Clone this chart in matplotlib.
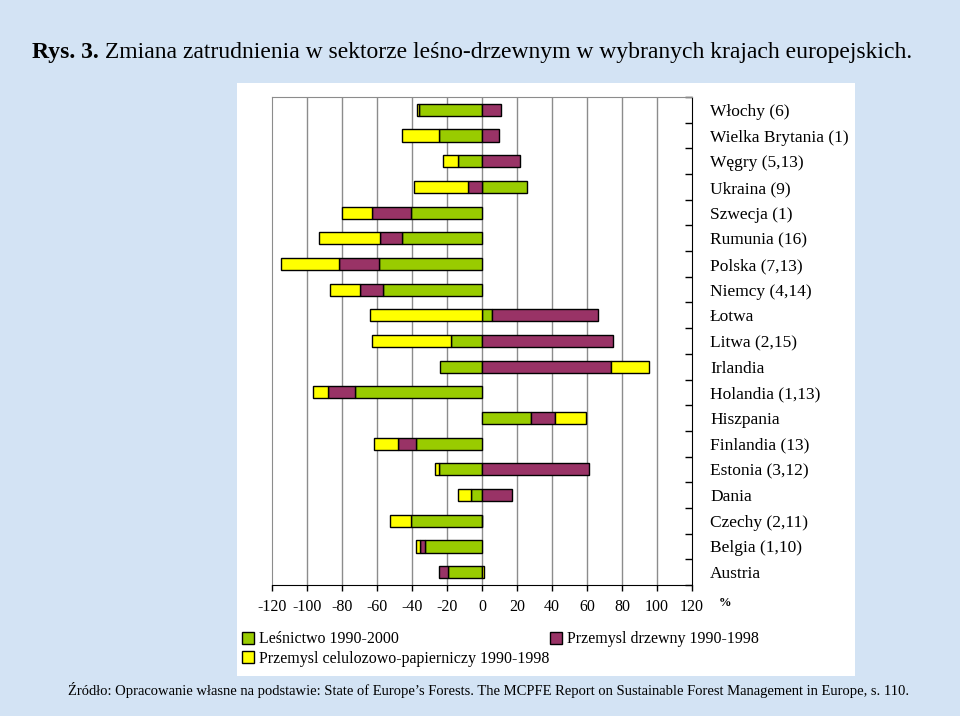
import numpy as np
import matplotlib
matplotlib.use("Agg")
import matplotlib.pyplot as plt

plt.rcParams['font.family'] = ['Liberation Serif', 'DejaVu Serif']

# categories listed bottom -> top, as in the original bar chart
countries = ["Austria", "Belgia (1,10)", "Czechy (2,11)", "Dania", "Estonia (3,12)",
             "Finlandia (13)", "Hiszpania", "Holandia (1,13)", "Irlandia", "Litwa (2,15)",
             "Łotwa", "Niemcy (4,14)", "Polska (7,13)", "Rumunia (16)", "Szwecja (1)",
             "Ukraina (9)", "Węgry (5,13)", "Wielka Brytania (1)", "Włochy (6)"]
lesnictwo = [-19.6, -32.6, -40.8, -6.3, -24.8, -37.7, 27.8, -72.6, -23.8, -17.9,
             5.7, -56.6, -58.9, -45.7, -40.6, 25.7, -13.9, -24.8, -35.8]
drzewny = [-5.1, -2.7, 0.0, 17.1, 61.0, -10.3, 13.9, -15.2, 73.9, 74.7,
           60.4, -13.3, -23.0, -12.4, -22.5, -7.8, 21.9, 9.9, 11.0]
celuloza = [1.0, -2.7, -12.0, -7.6, -2.3, -13.9, 17.9, -9.0, 21.7, -45.0,
            -64.0, -17.0, -33.0, -34.9, -16.8, -31.2, -8.2, -21.1, -1.2]
series_names = ["Leśnictwo 1990-2000", "Przemysl drzewny 1990-1998",
                "Przemysl celulozowo-papierniczy 1990-1998"]
colors = ["#99cc00", "#993366", "#ffff00"]
xticks = list(range(-120, 121, 20))

fig = plt.figure(figsize=(9.6, 7.16), dpi=100)
fig.patch.set_facecolor("#d3e3f4")

# white chart panel behind the plot
panel = fig.add_axes([237 / 960, 1 - 676 / 716, 618 / 960, 593 / 716])
panel.set_facecolor("white")
panel.set_xticks([])
panel.set_yticks([])
for s in panel.spines.values():
    s.set_visible(False)

ax = fig.add_axes([272 / 960, 1 - 585 / 716, 420 / 960, 488 / 716])
ax.set_facecolor("white")

y = np.arange(len(countries))
pos = np.zeros(len(countries))
neg = np.zeros(len(countries))
bars = []
for vals, col, name in zip([lesnictwo, drzewny, celuloza], colors, series_names):
    vals = np.array(vals)
    left = np.where(vals >= 0, pos, neg)
    b = ax.barh(y, vals, left=left, height=0.47, color=col, edgecolor="black",
                linewidth=1.0, label=name, zorder=3)
    bars.append(b)
    pos = pos + np.clip(vals, 0, None)
    neg = neg + np.clip(vals, None, 0)

ax.set_xlim(-120, 120)
ax.set_ylim(-0.5, len(countries) - 0.5)
ax.set_xticks(xticks)
ax.set_xticklabels([str(t) for t in xticks], fontsize=11.5)
for t in xticks[1:-1]:
    ax.axvline(t, color="#8c8c8c", linewidth=1.0, zorder=1)

ax.yaxis.tick_right()
ax.set_yticks(y)
ax.set_yticklabels(countries, fontsize=12.5)
ax.set_yticks(np.arange(-0.5, len(countries), 1), minor=True)
ax.tick_params(axis="y", which="major", length=0, pad=13)
ax.tick_params(axis="y", which="minor", length=5, direction="in", width=1)
ax.tick_params(axis="x", length=4, direction="out", width=1, pad=6)

ax.spines["left"].set_color("#8c8c8c")
ax.spines["top"].set_color("#8c8c8c")
ax.spines["right"].set_color("black")
ax.spines["bottom"].set_color("black")

fig.text(725 / 960, 1 - 603 / 716, "%", fontsize=9, fontweight="bold",
         ha="center", va="center")

# legend: first column green + yellow, second column maroon
leg = fig.legend([bars[0], bars[2], bars[1]],
                 [series_names[0], series_names[2], series_names[1]],
                 loc="upper left", ncol=2,
                 bbox_to_anchor=(236 / 960, 1 - 625 / 716), frameon=False,
                 fontsize=11.5, handlelength=0.75, handleheight=0.75,
                 handletextpad=0.3, columnspacing=0.05, labelspacing=0.2,
                 borderaxespad=0)

# title with bold prefix
t1 = fig.text(32 / 960, 1 - 58 / 716, "Rys. 3.", fontsize=17, fontweight="bold",
              ha="left", va="baseline")
ax.annotate(" Zmiana zatrudnienia w sektorze leśno-drzewnym w wybranych krajach europejskich.",
            xy=(1, 0), xycoords=t1, ha="left", va="bottom", fontsize=17,
            annotation_clip=False)

fig.text(68 / 960, 1 - 690 / 716,
         "Źródło: Opracowanie własne na podstawie: State of Europe’s Forests. "
         "The MCPFE Report on Sustainable Forest Management in Europe, s. 110.",
         fontsize=10.5, ha="left", va="center")

fig.savefig("out.png", dpi=100, facecolor=fig.get_facecolor())
